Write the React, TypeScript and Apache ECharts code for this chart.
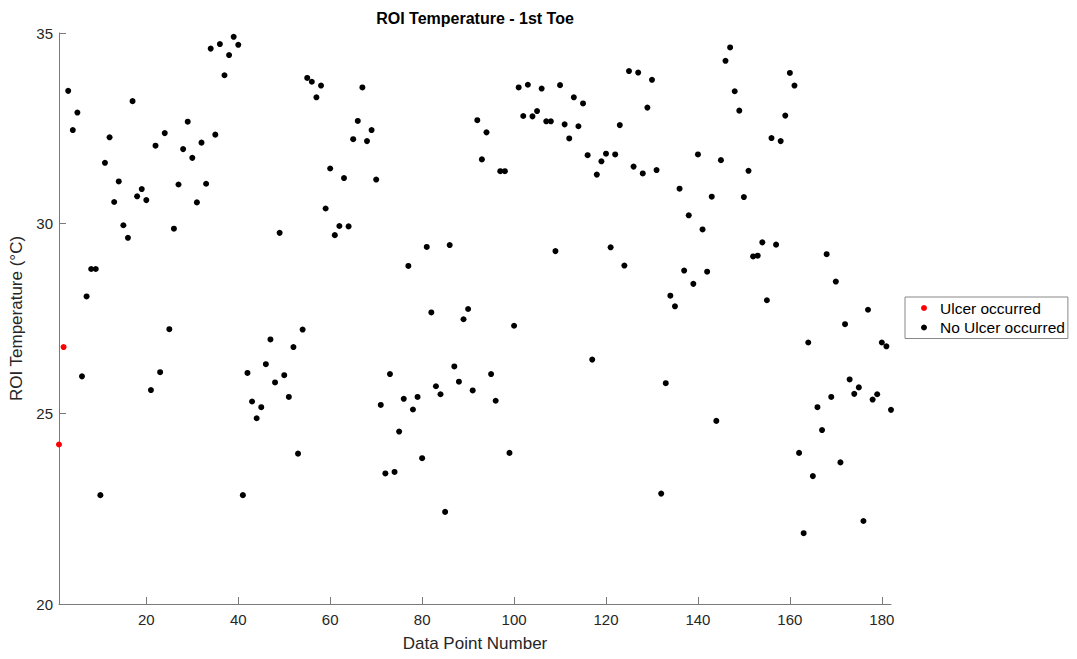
import React, { useEffect, useRef } from "react";
import * as echarts from "echarts";

// Data point numbers 1..2 (ulcer occurred)
const ulcerIndex = [1, 2];
const ulcerTemps = [24.19, 26.75];

// Data point numbers 3..182 (no ulcer occurred)
const noUlcerFirstIndex = 3;
const noUlcerTemps = [
  33.48, 32.45, 32.91, 25.98, 28.08, 28.8, 28.8, 22.86, 31.59, 32.26,
  30.56, 31.1, 29.95, 29.62, 33.21, 30.71, 30.9, 30.61, 25.62, 32.04,
  26.09, 32.37, 27.22, 29.86, 31.02, 31.95, 32.67, 31.72, 30.55, 32.12,
  31.04, 34.59, 32.33, 34.71, 33.89, 34.42, 34.9, 34.69, 22.86, 26.07,
  25.32, 24.88, 25.17, 26.3, 26.95, 25.82, 29.75, 26.01, 25.44, 26.75,
  23.95, 27.21, 33.82, 33.72, 33.31, 33.62, 30.39, 31.44, 29.69, 29.93,
  31.19, 29.92, 32.21, 32.69, 33.57, 32.16, 32.45, 31.15, 25.23, 23.43,
  26.04, 23.47, 24.53, 25.39, 28.88, 25.11, 25.44, 23.83, 29.38, 27.66,
  25.72, 25.51, 22.42, 29.43, 26.24, 25.84, 27.48, 27.75, 25.61, 32.71,
  31.68, 32.39, 26.04, 25.34, 31.37, 31.37, 23.97, 27.31, 33.57, 32.82,
  33.64, 32.81, 32.95, 33.54, 32.68, 32.68, 29.27, 33.63, 32.6, 32.23,
  33.31, 32.55, 33.15, 31.79, 26.42, 31.28, 31.63, 31.83, 29.37, 31.81,
  32.58, 28.89, 34.0, 31.49, 33.96, 31.31, 33.04, 33.77, 31.4, 22.9,
  25.8, 28.1, 27.82, 30.91, 28.76, 30.21, 28.41, 31.81, 29.84, 28.73,
  30.7, 24.81, 31.66, 34.27, 34.62, 33.47, 32.96, 30.69, 31.38, 29.13,
  29.15, 29.5, 27.98, 32.24, 29.44, 32.16, 32.83, 33.95, 33.62, 23.97,
  21.86, 26.87, 23.36, 25.17, 24.57, 29.19, 25.44, 28.47, 23.72, 27.35,
  25.9, 25.52, 25.69, 22.18, 27.73, 25.37, 25.51, 26.87, 26.77, 25.1,
];

const xTickValues = [20, 40, 60, 80, 100, 120, 140, 160, 180];
const yTickValues = [20, 25, 30, 35];

const FONT = "'Liberation Sans', Arial, Helvetica, sans-serif";
const TEXT = "#262626";
const AXIS = "#7a7a7a";

export default function App() {
  const ref = useRef<HTMLDivElement>(null);

  useEffect(() => {
    if (!ref.current) return;
    const chart = echarts.init(ref.current, undefined, { renderer: "svg" });

    const ulcerData = ulcerIndex.map((x, i) => [x, ulcerTemps[i]]);
    const noUlcerData = noUlcerTemps.map((v, i) => [noUlcerFirstIndex + i, v]);

    chart.setOption({
      animation: false,
      backgroundColor: "#ffffff",
      textStyle: { fontFamily: FONT },
      graphic: [
        {
          type: "text",
          x: 475,
          y: 10,
          style: {
            text: "ROI Temperature - 1st Toe",
            textAlign: "center",
            fill: "#000",
            font: `bold 16px ${FONT}`,
          },
        },
      ],
      grid: { left: 59, right: 186, top: 33, bottom: 55, containLabel: false },
      legend: {
        orient: "vertical",
        left: 905,
        top: 297,
        padding: [3, 3, 3, 16],
        itemGap: 3.5,
        itemWidth: 6,
        itemHeight: 6,
        icon: "circle",
        borderColor: "#888",
        borderWidth: 1,
        borderRadius: 0,
        backgroundColor: "#fff",
        textStyle: {
          fontSize: 15.5,
          color: "#000",
          fontFamily: FONT,
          lineHeight: 16,
          padding: [0, 0, 0, 8],
        },
        data: ["Ulcer occurred", "No Ulcer occurred"],
      },
      xAxis: {
        type: "value",
        min: 1,
        max: 182,
        name: "Data Point Number",
        nameLocation: "middle",
        nameGap: 31,
        nameTextStyle: { fontSize: 17, color: TEXT, fontFamily: FONT },
        axisLine: { show: true, lineStyle: { color: AXIS, width: 1 } },
        axisTick: {
          show: true,
          inside: true,
          length: 7,
          customValues: xTickValues,
          lineStyle: { color: AXIS },
        },
        axisLabel: {
          customValues: xTickValues,
          fontSize: 15,
          color: TEXT,
          margin: 8,
          fontFamily: FONT,
        },
        splitLine: { show: false },
      },
      yAxis: {
        type: "value",
        min: 20,
        max: 35,
        interval: 5,
        name: "ROI Temperature (°C)",
        nameLocation: "middle",
        nameGap: 32,
        nameTextStyle: { fontSize: 17, color: TEXT, fontFamily: FONT },
        axisLine: { show: true, lineStyle: { color: AXIS, width: 1 } },
        axisTick: {
          show: true,
          inside: true,
          length: 7,
          lineStyle: { color: AXIS },
        },
        axisLabel: {
          fontSize: 15,
          color: TEXT,
          margin: 6,
          fontFamily: FONT,
          customValues: yTickValues,
        },
        splitLine: { show: false },
      },
      series: [
        {
          name: "Ulcer occurred",
          type: "scatter",
          symbol: "circle",
          symbolSize: 6,
          itemStyle: { color: "#ff0000", opacity: 1 },
          data: ulcerData,
        },
        {
          name: "No Ulcer occurred",
          type: "scatter",
          symbol: "circle",
          symbolSize: 6,
          itemStyle: { color: "#000000", opacity: 1 },
          data: noUlcerData,
        },
      ],
    });

    return () => {
      chart.dispose();
    };
  }, []);

  return (
    <div
      ref={ref}
      style={{ position: "fixed", left: 0, top: 0, width: 1077, height: 659, background: "#fff" }}
    />
  );
}
